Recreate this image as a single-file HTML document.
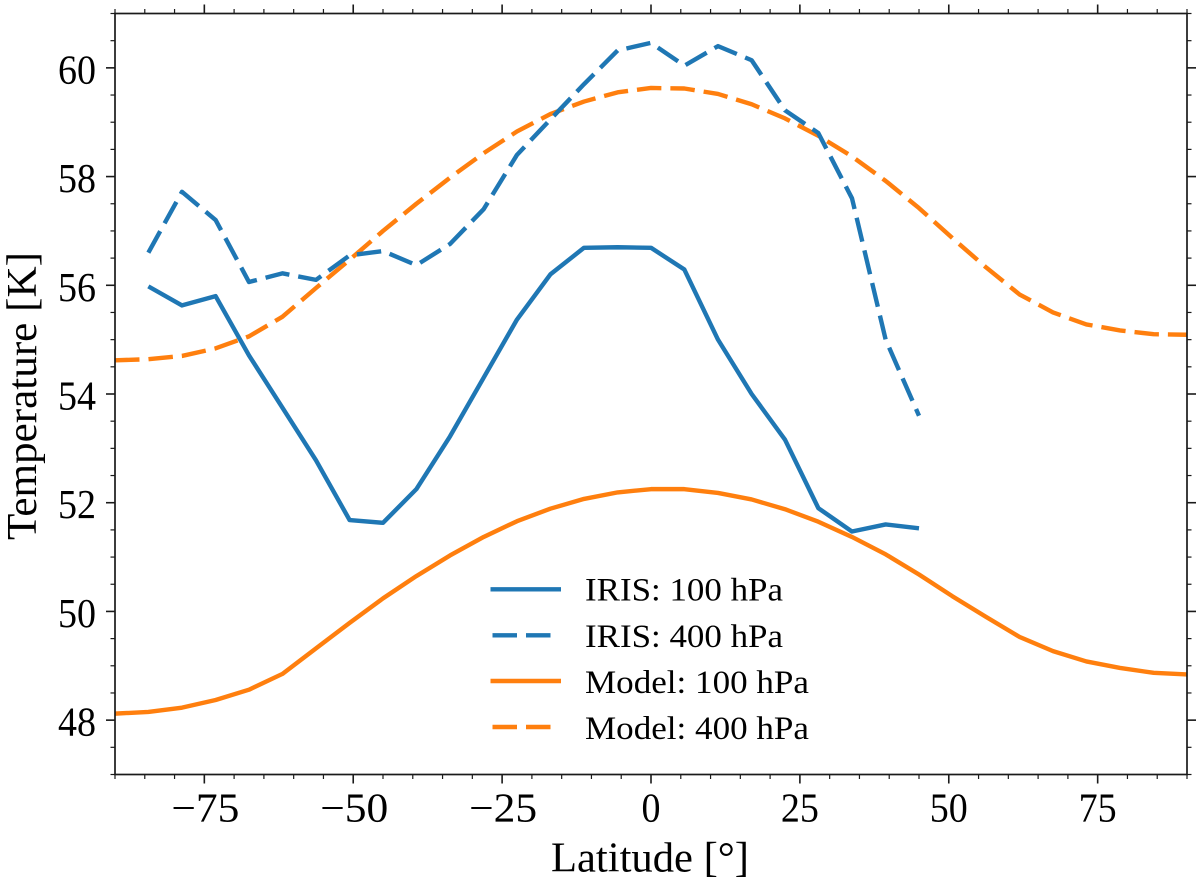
<!DOCTYPE html>
<html>
<head>
<meta charset="utf-8">
<title>Temperature vs Latitude</title>
<style>
html,body{margin:0;padding:0;background:#fff;}
svg{display:block;}
text{font-family:"Liberation Serif",serif;fill:#000;}
</style>
</head>
<body>
<svg id="chart" xmlns="http://www.w3.org/2000/svg" width="1200" height="886" viewBox="0 0 1200 886">
  <defs><clipPath id="plot-clip"><rect x="115" y="13.5" width="1072" height="761"/></clipPath></defs>
  <rect x="0" y="0" width="1200" height="886" fill="#fff"/>
  <g id="series" clip-path="url(#plot-clip)"></g>
  <g id="ticks"></g>
  <rect x="115" y="13.5" width="1072" height="761" fill="none" stroke="#1a1a1a" stroke-width="1.7"/>
  <g id="ticklabels"></g>
  <text x="551" y="871.5" font-size="42" textLength="198" lengthAdjust="spacingAndGlyphs">Latitude [°]</text>
  <text transform="translate(36,540) rotate(-90)" x="0" y="0" font-size="42" textLength="288" lengthAdjust="spacingAndGlyphs">Temperature [K]</text>
  <g>
    <g>
      <line x1="490.5" x2="561" y1="589.3" y2="589.3" stroke="#1f77b4" stroke-width="4.4"/>
      <text x="585" y="600.7" font-size="33" textLength="198" lengthAdjust="spacingAndGlyphs">IRIS: 100 hPa</text>
    </g>
    <g>
      <line x1="492.5" x2="551" y1="635.3" y2="635.3" stroke="#1f77b4" stroke-width="4.4" stroke-dasharray="24.5 9"/>
      <text x="585" y="647" font-size="33" textLength="198" lengthAdjust="spacingAndGlyphs">IRIS: 400 hPa</text>
    </g>
    <g>
      <line x1="490.5" x2="561" y1="681" y2="681" stroke="#ff7f0e" stroke-width="4.4"/>
      <text x="585" y="693" font-size="33" textLength="224" lengthAdjust="spacingAndGlyphs">Model: 100 hPa</text>
    </g>
    <g>
      <line x1="492.5" x2="551" y1="727" y2="727" stroke="#ff7f0e" stroke-width="4.4" stroke-dasharray="24.5 9"/>
      <text x="585" y="739" font-size="33" textLength="224" lengthAdjust="spacingAndGlyphs">Model: 400 hPa</text>
    </g>
  </g>
</svg>
<script>
const irisLat = [-84.4,-78.75,-73.1,-67.5,-61.9,-56.25,-50.6,-45,-39.4,-33.75,-28.1,-22.5,-16.9,-11.25,-5.6,0,5.6,11.25,16.9,22.5,28.1,33.75,39.4,45];
const iris100 = [55.98,55.63,55.8,54.71,53.75,52.78,51.68,51.63,52.25,53.22,54.3,55.37,56.2,56.69,56.7,56.69,56.29,55.0,54.0,53.16,51.9,51.47,51.6,51.53];
const iris400 = [56.6,57.72,57.2,56.06,56.22,56.1,56.55,56.63,56.37,56.76,57.4,58.4,59.05,59.7,60.32,60.46,60.04,60.4,60.14,59.22,58.8,57.6,55.0,53.6];
const modelLat = [-90,-84.4,-78.75,-73.1,-67.5,-61.9,-56.25,-50.6,-45,-39.4,-33.75,-28.1,-22.5,-16.9,-11.25,-5.6,0,5.6,11.25,16.9,22.5,28.1,33.75,39.4,45,50.6,56.25,61.9,67.5,73.1,78.75,84.4,90];
const model100 = [48.12,48.15,48.23,48.37,48.56,48.85,49.32,49.79,50.24,50.65,51.03,51.37,51.66,51.89,52.07,52.19,52.25,52.25,52.18,52.06,51.88,51.65,51.37,51.05,50.68,50.28,49.9,49.53,49.27,49.08,48.96,48.87,48.84];
const model400 = [54.62,54.64,54.7,54.84,55.06,55.42,55.95,56.47,57.0,57.5,57.98,58.43,58.83,59.15,59.38,59.55,59.63,59.62,59.52,59.33,59.07,58.75,58.37,57.92,57.42,56.87,56.33,55.83,55.5,55.28,55.17,55.1,55.09];
const xMajorTicks = [-75,-50,-25,0,25,50,75];
const yMajorTicks = [48,50,52,54,56,58,60];

const NS = 'http://www.w3.org/2000/svg';
const left = 115, right = 1187, top_ = 13.5, bottom = 774.5;
function xScale(v){ return left + (v + 90) / 180 * (right - left); }
function yScale(v){ return bottom - (v - 47) / 14 * (bottom - top_); }

const seriesG = document.getElementById('series');
const ticksG = document.getElementById('ticks');
const labelsG = document.getElementById('ticklabels');

function addSeries(name, xs, ys, color, dash){
  const p = document.createElementNS(NS, 'polyline');
  
  
  p.setAttribute('points', xs.map((x, i) => xScale(x).toFixed(2) + ',' + yScale(ys[i]).toFixed(2)).join(' '));
  p.setAttribute('fill', 'none');
  p.setAttribute('stroke', color);
  p.setAttribute('stroke-width', '4.4');
  p.setAttribute('stroke-linejoin', 'round');
  if (dash) p.setAttribute('stroke-dasharray', dash);
  seriesG.appendChild(p);
}
addSeries('line-model-100-hpa', modelLat, model100, '#ff7f0e', null);
addSeries('line-model-400-hpa', modelLat, model400, '#ff7f0e', '24.5 9');
addSeries('line-iris-100-hpa', irisLat, iris100, '#1f77b4', null);
addSeries('line-iris-400-hpa', irisLat, iris400, '#1f77b4', '24.5 9');

function addTick(name, x1, y1, x2, y2, w){
  const l = document.createElementNS(NS, 'line');
  
  
  l.setAttribute('x1', x1);
  l.setAttribute('y1', y1);
  l.setAttribute('x2', x2);
  l.setAttribute('y2', y2);
  l.setAttribute('stroke', '#1a1a1a');
  l.setAttribute('stroke-width', w);
  ticksG.appendChild(l);
}
for (let v = -90; v <= 90; v += 5) {
  const major = xMajorTicks.includes(v);
  const len = major ? 9 : 4.5;
  const w = major ? 1.6 : 1.2;
  const x = xScale(v);
  addTick('x-tick-bottom', x, bottom, x, bottom + len, w);
  addTick('x-tick-top', x, top_, x, top_ - len, w);
}
for (let v = 47; v <= 61; v += 0.5) {
  const major = yMajorTicks.includes(v);
  const len = major ? 9 : 4.5;
  const w = major ? 1.6 : 1.2;
  const y = yScale(v);
  addTick('y-tick-left', left, y, left - len, y, w);
  addTick('y-tick-right', right, y, right + len, y, w);
}

function addLabel(name, str, x, y, anchor, tl){
  const t = document.createElementNS(NS, 'text');
  
  
  t.setAttribute('x', x);
  t.setAttribute('y', y);
  t.setAttribute('font-size', '41');
  t.setAttribute('text-anchor', anchor);
  t.setAttribute('textLength', tl);
  t.setAttribute('lengthAdjust', 'spacingAndGlyphs');
  t.textContent = str;
  labelsG.appendChild(t);
}
xMajorTicks.forEach(v => {
  if (v < 0) addLabel('x-tick-label', '\u2212' + Math.abs(v), xScale(v) + 1, 821.5, 'middle', 68);
  else if (v === 0) addLabel('x-tick-label', '0', xScale(v), 821.5, 'middle', 19);
  else addLabel('x-tick-label', String(v), xScale(v), 821.5, 'middle', 38);
});
yMajorTicks.forEach(v => {
  addLabel('y-tick-label', String(v), 96, yScale(v) + 15.5, 'end', 38);
});
</script>
</body>
</html>
